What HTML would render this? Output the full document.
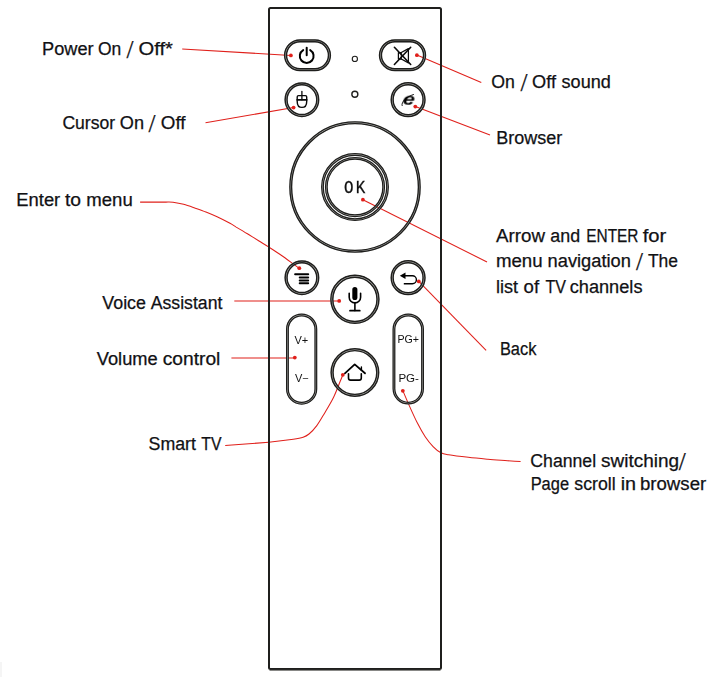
<!DOCTYPE html>
<html lang="en">
<head>
<meta charset="utf-8">
<title>Remote control buttons</title>
<style>
html,body{margin:0;padding:0;background:#fff;}
body{width:715px;height:677px;overflow:hidden;}
svg{display:block;font-family:"Liberation Sans",Arial,sans-serif;}
.ic{will-change:transform;}
.sl{font-family:"Liberation Serif",serif;}
.lbl text{fill:#111114;stroke:#111114;stroke-width:0.25px;}
</style>
</head>
<body>
<svg width="715" height="677" viewBox="0 0 715 677">
<rect width="715" height="677" fill="#fff"/>
<g class="lbl">
<text font-size="18.0"><tspan x="42.05" y="54.8" textLength="51.6" lengthAdjust="spacingAndGlyphs">Power</tspan> <tspan x="97.99" y="54.8" textLength="23.3" lengthAdjust="spacingAndGlyphs">On</tspan> <tspan x="126.4" y="57.8" font-size="25" class="sl">/</tspan> <tspan x="138.53" y="54.8" textLength="34.4" lengthAdjust="spacingAndGlyphs">Off*</tspan></text>
<text font-size="18.0"><tspan x="62.38" y="128.6" textLength="52.7" lengthAdjust="spacingAndGlyphs">Cursor</tspan> <tspan x="119.86" y="128.6" textLength="24.2" lengthAdjust="spacingAndGlyphs">On</tspan> <tspan x="148.4" y="131.6" font-size="25" class="sl">/</tspan> <tspan x="160.83" y="128.6" textLength="24.7" lengthAdjust="spacingAndGlyphs">Off</tspan></text>
<text font-size="18.0"><tspan x="16.35" y="205.7" textLength="43.9" lengthAdjust="spacingAndGlyphs">Enter</tspan> <tspan x="64.94" y="205.7" textLength="16.1" lengthAdjust="spacingAndGlyphs">to</tspan> <tspan x="86.23" y="205.7" textLength="46.5" lengthAdjust="spacingAndGlyphs">menu</tspan></text>
<text font-size="18.0"><tspan x="102.3" y="309.1" textLength="43.7" lengthAdjust="spacingAndGlyphs">Voice</tspan> <tspan x="150.7" y="309.1" textLength="71.7" lengthAdjust="spacingAndGlyphs">Assistant</tspan></text>
<text font-size="18.0"><tspan x="96.8" y="364.8" textLength="60.9" lengthAdjust="spacingAndGlyphs">Volume</tspan> <tspan x="162.67" y="364.8" textLength="57.7" lengthAdjust="spacingAndGlyphs">control</tspan></text>
<text font-size="18.0"><tspan x="148.54" y="449.8" textLength="47.4" lengthAdjust="spacingAndGlyphs">Smart</tspan> <tspan x="201.35" y="449.8" textLength="20.2" lengthAdjust="spacingAndGlyphs">TV</tspan></text>
<text font-size="18.0"><tspan x="491.28" y="87.9" textLength="23.6" lengthAdjust="spacingAndGlyphs">On</tspan> <tspan x="520.4" y="90.9" font-size="25" class="sl">/</tspan> <tspan x="532.09" y="87.9" textLength="23.9" lengthAdjust="spacingAndGlyphs">Off</tspan> <tspan x="561.54" y="87.9" textLength="49.3" lengthAdjust="spacingAndGlyphs">sound</tspan></text>
<text font-size="18.0"><tspan x="496.16" y="143.5" textLength="66.0" lengthAdjust="spacingAndGlyphs">Browser</tspan></text>
<text font-size="18.0"><tspan x="495.95" y="241.8" textLength="49.0" lengthAdjust="spacingAndGlyphs">Arrow</tspan> <tspan x="550.36" y="241.8" textLength="29.8" lengthAdjust="spacingAndGlyphs">and</tspan> <tspan x="586.24" y="241.8" textLength="52.2" lengthAdjust="spacingAndGlyphs">ENTER</tspan> <tspan x="642.7" y="241.8" textLength="23.6" lengthAdjust="spacingAndGlyphs">for</tspan></text>
<text font-size="18.0"><tspan x="495.95" y="267.2" textLength="46.7" lengthAdjust="spacingAndGlyphs">menu</tspan> <tspan x="547.57" y="267.2" textLength="83.4" lengthAdjust="spacingAndGlyphs">navigation</tspan> <tspan x="636.0" y="269.5" font-size="25" class="sl">/</tspan> <tspan x="647.88" y="267.2" textLength="30.1" lengthAdjust="spacingAndGlyphs">The</tspan></text>
<text font-size="18.0"><tspan x="495.95" y="293.3" textLength="22.1" lengthAdjust="spacingAndGlyphs">list</tspan> <tspan x="523.62" y="293.3" textLength="15.5" lengthAdjust="spacingAndGlyphs">of</tspan> <tspan x="545.44" y="293.3" textLength="20.5" lengthAdjust="spacingAndGlyphs">TV</tspan> <tspan x="569.69" y="293.3" textLength="72.8" lengthAdjust="spacingAndGlyphs">channels</tspan></text>
<text font-size="18.0"><tspan x="499.91" y="354.5" textLength="36.5" lengthAdjust="spacingAndGlyphs">Back</tspan></text>
<text font-size="18.0"><tspan x="530.32" y="467.2" textLength="65.8" lengthAdjust="spacingAndGlyphs">Channel</tspan> <tspan x="601.05" y="467.2" textLength="78.0" lengthAdjust="spacingAndGlyphs">switching</tspan><tspan x="678.8" y="470.2" font-size="25" class="sl">/</tspan></text>
<text font-size="18.0"><tspan x="530.66" y="489.8" textLength="38.4" lengthAdjust="spacingAndGlyphs">Page</tspan> <tspan x="574.34" y="489.8" textLength="41.3" lengthAdjust="spacingAndGlyphs">scroll</tspan> <tspan x="620.68" y="489.8" textLength="15.4" lengthAdjust="spacingAndGlyphs">in</tspan> <tspan x="639.93" y="489.8" textLength="66.3" lengthAdjust="spacingAndGlyphs">browser</tspan></text>
</g>
<g class="leaders">
<path d="M182.2 49.1L290.9 55.4" fill="none" stroke="#e0201b" stroke-width="1.05"/>
<path d="M205.5 122.7L293.6 107.6" fill="none" stroke="#e0201b" stroke-width="1.05"/>
<path d="M416.9 55.1L481.3 82.4" fill="none" stroke="#e0201b" stroke-width="1.05"/>
<path d="M415.4 106.5L490 134.9" fill="none" stroke="#e0201b" stroke-width="1.05"/>
<path d="M362.9 199.7L487 262" fill="none" stroke="#e0201b" stroke-width="1.05"/>
<path d="M418.8 281.4L486.1 350.4" fill="none" stroke="#e0201b" stroke-width="1.05"/>
<path d="M234.3 301.0L339.2 301.0" fill="none" stroke="#e0201b" stroke-width="1.05"/>
<path d="M231.4 358.0L294.8 358.0" fill="none" stroke="#e0201b" stroke-width="1.05"/>
<path d="M140.1 202.1C142.8 202.1 151.7 202.1 156.0 202.1C160.3 202.1 163.2 202.1 166.0 202.1C168.8 202.1 170.1 201.9 173.0 202.3C175.9 202.7 180.0 203.4 183.6 204.3C187.2 205.2 191.0 206.6 194.7 207.9C198.4 209.2 202.2 210.5 205.9 212.0C209.6 213.5 213.1 214.9 217.1 216.8C221.1 218.7 226.8 221.6 230.0 223.3C233.2 225.0 233.3 225.3 236.2 227.1C239.1 228.8 243.7 231.5 247.4 233.8C251.1 236.1 255.1 238.5 258.6 240.7C262.1 242.9 264.9 244.5 268.6 246.9C272.3 249.3 277.0 252.3 280.9 255.0C284.8 257.7 289.1 260.9 292.1 263.1C295.2 265.3 298.0 267.4 299.2 268.3" fill="none" stroke="#e0201b" stroke-width="1.05"/>
<path d="M225.2 445.6C232.5 445.0 257.4 443.2 268.8 442.2C280.2 441.1 287.6 440.1 293.3 439.3C299.0 438.5 300.5 438.2 303.1 437.3C305.7 436.4 306.7 435.9 309.0 434.0C311.3 432.1 314.2 429.1 316.8 425.6C319.4 422.1 321.9 417.6 324.7 412.9C327.5 408.2 331.0 402.5 333.6 397.2C336.2 391.9 338.6 385.1 340.2 381.3C341.8 377.6 342.4 375.8 342.9 374.7" fill="none" stroke="#e0201b" stroke-width="1.05"/>
<path d="M402.9 390.8C404.0 393.4 407.2 401.0 409.6 406.4C412.0 411.8 414.8 418.0 417.4 423.1C420.0 428.2 422.6 432.9 425.2 436.8C427.8 440.7 430.5 443.9 433.1 446.6C435.7 449.3 438.3 451.4 440.9 452.8C443.5 454.2 444.1 454.1 448.7 454.8C453.3 455.6 461.8 456.6 468.3 457.3C474.8 458.1 481.4 458.7 487.9 459.3C494.4 459.9 502.1 460.3 507.5 460.7C513.0 461.1 518.4 461.4 520.6 461.5" fill="none" stroke="#e0201b" stroke-width="1.05"/>
</g>
<g class="remote">
<rect x="269" y="8" width="172" height="661" rx="1.5" fill="none" stroke="#1f1f1d" stroke-width="2"/>
<rect x="0" y="662" width="2" height="15" fill="#f5f5f5"/>
<path d="M269.5 670.4H440.5" fill="none" stroke="#7a7a78" stroke-width="1"/>
<rect x="285.57" y="40.88" width="43.85" height="28.75" rx="14.37" ry="14.37" fill="none" stroke="#bdbdbb" stroke-width="2.75"/><rect x="284.62" y="39.93" width="45.75" height="30.65" rx="15.32" ry="15.32" fill="none" stroke="#1f1f1d" stroke-width="1.45"/><rect x="286.52" y="41.83" width="41.95" height="26.85" rx="13.42" ry="13.42" fill="none" stroke="#1f1f1d" stroke-width="1.45"/>
<rect x="380.48" y="40.88" width="44.05" height="28.75" rx="14.37" ry="14.37" fill="none" stroke="#bdbdbb" stroke-width="2.75"/><rect x="379.53" y="39.93" width="45.95" height="30.65" rx="15.32" ry="15.32" fill="none" stroke="#1f1f1d" stroke-width="1.45"/><rect x="381.43" y="41.83" width="42.15" height="26.85" rx="13.42" ry="13.42" fill="none" stroke="#1f1f1d" stroke-width="1.45"/>
<circle cx="301.9" cy="99.7" r="15.82" fill="none" stroke="#bdbdbb" stroke-width="2.75"/><circle cx="301.9" cy="99.7" r="16.77" fill="none" stroke="#1f1f1d" stroke-width="1.45"/><circle cx="301.9" cy="99.7" r="14.88" fill="none" stroke="#1f1f1d" stroke-width="1.45"/>
<circle cx="408.1" cy="99.7" r="15.93" fill="none" stroke="#bdbdbb" stroke-width="2.75"/><circle cx="408.1" cy="99.7" r="16.88" fill="none" stroke="#1f1f1d" stroke-width="1.45"/><circle cx="408.1" cy="99.7" r="14.98" fill="none" stroke="#1f1f1d" stroke-width="1.45"/>
<circle cx="355" cy="187.05" r="64.25" fill="none" stroke="#bdbdbb" stroke-width="2.50"/><circle cx="355" cy="187.05" r="65.12" fill="none" stroke="#1f1f1d" stroke-width="1.35"/><circle cx="355" cy="187.05" r="63.38" fill="none" stroke="#1f1f1d" stroke-width="1.35"/>
<circle cx="355" cy="187.05" r="32.53" fill="none" stroke="#bdbdbb" stroke-width="2.25"/><circle cx="355" cy="187.05" r="33.33" fill="none" stroke="#1f1f1d" stroke-width="1.25"/><circle cx="355" cy="187.05" r="31.73" fill="none" stroke="#1f1f1d" stroke-width="1.25"/>
<circle cx="355" cy="187.05" r="28.68" fill="none" stroke="#bdbdbb" stroke-width="2.25"/><circle cx="355" cy="187.05" r="29.48" fill="none" stroke="#1f1f1d" stroke-width="1.25"/><circle cx="355" cy="187.05" r="27.88" fill="none" stroke="#1f1f1d" stroke-width="1.25"/>
<circle cx="301.9" cy="277.7" r="15.82" fill="none" stroke="#bdbdbb" stroke-width="2.75"/><circle cx="301.9" cy="277.7" r="16.77" fill="none" stroke="#1f1f1d" stroke-width="1.45"/><circle cx="301.9" cy="277.7" r="14.88" fill="none" stroke="#1f1f1d" stroke-width="1.45"/>
<circle cx="408.1" cy="277.7" r="15.93" fill="none" stroke="#bdbdbb" stroke-width="2.75"/><circle cx="408.1" cy="277.7" r="16.88" fill="none" stroke="#1f1f1d" stroke-width="1.45"/><circle cx="408.1" cy="277.7" r="14.98" fill="none" stroke="#1f1f1d" stroke-width="1.45"/>
<circle cx="354.9" cy="299.3" r="23.07" fill="none" stroke="#bdbdbb" stroke-width="2.75"/><circle cx="354.9" cy="299.3" r="24.02" fill="none" stroke="#1f1f1d" stroke-width="1.45"/><circle cx="354.9" cy="299.3" r="22.12" fill="none" stroke="#1f1f1d" stroke-width="1.45"/>
<circle cx="354.9" cy="372.5" r="22.82" fill="none" stroke="#bdbdbb" stroke-width="2.75"/><circle cx="354.9" cy="372.5" r="23.77" fill="none" stroke="#1f1f1d" stroke-width="1.45"/><circle cx="354.9" cy="372.5" r="21.88" fill="none" stroke="#1f1f1d" stroke-width="1.45"/>
<rect x="287.45" y="314.95" width="28.40" height="88.30" rx="14.20" ry="14.20" fill="none" stroke="#bdbdbb" stroke-width="2.30"/><rect x="286.62" y="314.12" width="30.05" height="89.95" rx="15.03" ry="15.03" fill="none" stroke="#1f1f1d" stroke-width="1.25"/><rect x="288.27" y="315.77" width="26.75" height="86.65" rx="13.38" ry="13.38" fill="none" stroke="#1f1f1d" stroke-width="1.25"/>
<rect x="393.95" y="314.95" width="28.60" height="88.20" rx="14.30" ry="14.30" fill="none" stroke="#bdbdbb" stroke-width="2.30"/><rect x="393.12" y="314.12" width="30.25" height="89.85" rx="15.12" ry="15.12" fill="none" stroke="#1f1f1d" stroke-width="1.25"/><rect x="394.77" y="315.77" width="26.95" height="86.55" rx="13.47" ry="13.47" fill="none" stroke="#1f1f1d" stroke-width="1.25"/>
<circle cx="354.85" cy="58.9" r="2.6" fill="none" stroke="#1f1f1d" stroke-width="1.1"/>
<circle cx="354.85" cy="94.2" r="3.0" fill="none" stroke="#1f1f1d" stroke-width="1.4"/>
<g fill="none" stroke="#000" stroke-width="2" stroke-linecap="round"><path d="M306.7 47.7V55.2"/><path d="M303.2 50.1A6.9 6.9 0 1 0 310.2 50.1"/></g>
<g fill="none" stroke="#0a0a0a" stroke-linecap="round" stroke-linejoin="round"><path d="M394.4 47.3L410.7 64.5M410.7 47.3L394.4 64.5" stroke-width="1.6"/><path d="M398.4 52.5H401.3L408.4 48.6V62.9L401.3 59H398.4Z" stroke-width="1.25"/><path d="M401.3 52.5V59" stroke-width="1.1"/></g>
<g fill="none" stroke="#0a0a0a" stroke-linecap="round"><path d="M297.2 101.4V96.9Q297.2 95.6 298.5 95.6H305.4Q306.7 95.6 306.7 96.9V101.4Q306.7 107.4 301.95 107.4Q297.2 107.4 297.2 101.4Z" stroke-width="1.4"/><path d="M297.2 99.8H306.7" stroke-width="1.8"/><path d="M301.9 91.5V99.8" stroke-width="1.3"/></g>
<text class="ic" transform="translate(408.4 104.75) scale(1.28 1) skewX(-4)" x="0" y="0" font-size="16.8" font-weight="bold" font-style="italic" text-anchor="middle" fill="#000">e</text>
<path d="M402.1 105.6C400.9 101.9 406.5 96.7 413.5 94.5" fill="none" stroke="#000" stroke-width="0.9" stroke-linecap="round"/>
<text transform="translate(355.7 193.3) scale(0.88 1)" class="ic" x="0" y="0" font-family="'Liberation Mono',monospace" font-size="18" letter-spacing="2.6" text-anchor="middle" fill="#111" stroke="#111" stroke-width="0.3">OK</text>
<g fill="none" stroke="#000" stroke-width="2" stroke-linecap="round"><path d="M295.1 274.25H308.2"/><path d="M299.7 277.5H308.2M299.7 280.4H308.2M299.7 283.3H308.2" stroke-width="1.95"/></g>
<path d="M399.8 275.75L405.5 272.6V278.9Z" fill="#000"/><path d="M405 275.75H412.4A4 4 0 0 1 412.4 283.75H403.8" fill="none" stroke="#000" stroke-width="1.4"/>
<rect x="352.3" y="287.1" width="5.1" height="12.9" rx="2.55" fill="#000"/><g fill="none" stroke="#000" stroke-linecap="round"><path d="M349.2 293.2V297.2A5.7 5.7 0 0 0 360.6 297.2V293.2" stroke-width="1.6"/><path d="M354.9 303V310.6" stroke-width="1.6"/><path d="M350 310.7H359.8" stroke-width="1.7"/></g>
<g fill="none" stroke="#000" stroke-linecap="round" stroke-linejoin="round"><path d="M344.9 373.3L354.7 364.4L365 373.3" stroke-width="1.8"/><path d="M361.4 366.9V370.2" stroke-width="1.4"/><path d="M348.5 373.8V378Q348.5 380.1 350.6 380.1H359.2Q361.3 380.1 361.3 378V373.8" stroke-width="1.6"/></g>
<g class="ic" font-size="10.2" fill="#111" text-anchor="middle"><text x="301.4" y="343.5" textLength="13.8" lengthAdjust="spacingAndGlyphs">V+</text><text x="302" y="381.8" textLength="13.8" lengthAdjust="spacingAndGlyphs">V−</text><text x="408.2" y="343.2" textLength="21.6" lengthAdjust="spacingAndGlyphs">PG+</text><text x="408.7" y="382.2" textLength="20.6" lengthAdjust="spacingAndGlyphs">PG-</text></g>
</g>
<g class="dots">
<circle cx="290.9" cy="55.4" r="1.9" fill="#e0201b"/>
<circle cx="293.6" cy="107.6" r="1.9" fill="#e0201b"/>
<circle cx="416.9" cy="55.2" r="1.9" fill="#e0201b"/>
<circle cx="415.3" cy="106.6" r="1.9" fill="#e0201b"/>
<circle cx="362.9" cy="199.7" r="1.9" fill="#e0201b"/>
<circle cx="418.8" cy="281.4" r="1.9" fill="#e0201b"/>
<circle cx="339.2" cy="300.9" r="1.9" fill="#e0201b"/>
<circle cx="294.8" cy="357.6" r="1.9" fill="#e0201b"/>
<circle cx="299.3" cy="268.2" r="1.9" fill="#e0201b"/>
<circle cx="342.8" cy="374.8" r="1.9" fill="#e0201b"/>
<circle cx="402.8" cy="390.8" r="1.9" fill="#e0201b"/>
</g>
</svg>
</body>
</html>
